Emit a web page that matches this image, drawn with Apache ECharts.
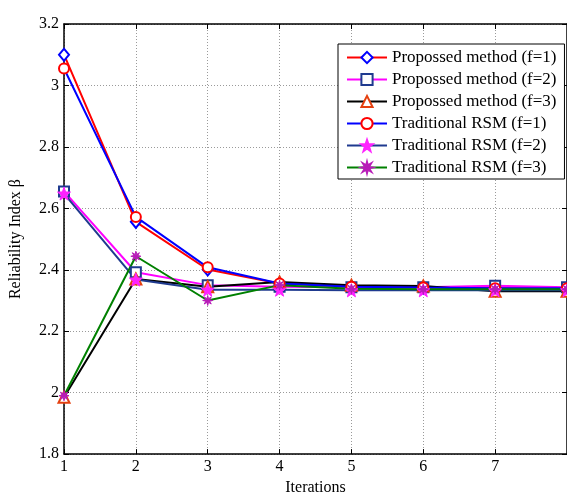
<!DOCTYPE html>
<html>
<head>
<meta charset="utf-8">
<script src="https://cdn.jsdelivr.net/npm/echarts@6/dist/echarts.min.js"></script>
<style>
  html, body { margin: 0; padding: 0; background: #fff; }
  #chart { width: 567px; height: 501px; }
</style>
</head>
<body>
<div id="chart"></div>
<script>
// Iteration numbers on the horizontal axis
const iterations = [1, 2, 3, 4, 5, 6, 7, 8];

// Reliability index beta per iteration
const proposedF1 = [3.10, 2.556, 2.401, 2.355, 2.345, 2.342, 2.340, 2.340];
const proposedF2 = [2.655, 2.392, 2.350, 2.345, 2.343, 2.343, 2.348, 2.343];
const proposedF3 = [1.985, 2.370, 2.345, 2.360, 2.350, 2.347, 2.330, 2.330];
const traditionalF1 = [3.055, 2.572, 2.408, 2.355, 2.345, 2.342, 2.340, 2.340];
const traditionalF2 = [2.648, 2.368, 2.335, 2.335, 2.333, 2.333, 2.333, 2.333];
const traditionalF3 = [1.990, 2.444, 2.300, 2.350, 2.338, 2.337, 2.337, 2.337];

// Legend entries
const seriesNames = [
  'Propossed method (f=1)',
  'Propossed method (f=2)',
  'Propossed method (f=3)',
  'Traditional RSM (f=1)',
  'Traditional RSM (f=2)',
  'Traditional RSM (f=3)'
];

const FONT = '"Liberation Serif", "Times New Roman", serif';

const STAR5 = 'path://M10,0 L12.35,6.76 L19.51,6.91 L13.8,11.24 L15.88,18.09 L10,14 L4.12,18.09 L6.2,11.24 L0.49,6.91 L7.65,6.76 Z';
const STAR8 = 'path://M10,0 L11.53,6.3 L17.07,2.93 L13.7,8.47 L20,10 L13.7,11.53 L17.07,17.07 L11.53,13.7 L10,20 L8.47,13.7 L2.93,17.07 L6.3,11.53 L0,10 L6.3,8.47 L2.93,2.93 L8.47,6.3 Z';

function pairs(values) {
  return iterations.map((x, i) => [x, values[i]]);
}

function makeSeries(name, values, lineColor, symbol, symbolSize, markColor, filled) {
  return {
    name: name,
    type: 'line',
    xAxisIndex: 0,
    yAxisIndex: 0,
    data: pairs(values),
    symbol: symbol,
    symbolSize: symbolSize,
    showAllSymbol: true,
    lineStyle: { color: lineColor, width: 2 },
    itemStyle: filled
      ? { color: markColor, borderColor: markColor, borderWidth: 1 }
      : { color: markColor, borderColor: markColor, borderWidth: 2 },
    emphasis: { disabled: true },
    animation: false
  };
}

const chart = echarts.init(document.getElementById('chart'), null, { renderer: 'canvas' });

const gridLine = { show: true, lineStyle: { color: '#9a9a9a', type: [1, 2], width: 1 } };
const axisLine = { show: true, onZero: false, lineStyle: { color: '#000', width: 1.5 } };
const axisTick = { show: true, inside: true, length: 5, lineStyle: { color: '#000', width: 1 } };

chart.setOption({
  backgroundColor: '#fff',
  animation: false,
  // the plot runs a few pixels past the right edge of the canvas
  grid: { left: 61, width: 510, top: 24, bottom: 39, containLabel: false },
  legend: {
    orient: 'vertical',
    left: 338,
    top: 44,
    padding: [5, 8, 3, 8],
    itemWidth: 40,
    itemHeight: 14,
    itemGap: 5,
    backgroundColor: '#fff',
    borderColor: '#000',
    borderWidth: 1,
    borderRadius: 0,
    selectedMode: false,
    textStyle: { fontFamily: FONT, fontSize: 17, color: '#000' },
    data: seriesNames
  },
  xAxis: [
    {
      type: 'value', min: 1, max: 8, interval: 1,
      position: 'bottom',
      name: 'Iterations', nameLocation: 'middle', nameGap: 24,
      nameTextStyle: { fontFamily: FONT, fontSize: 16, color: '#000' },
      axisLine: axisLine, axisTick: axisTick,
      axisLabel: { fontFamily: FONT, fontSize: 16, color: '#000', margin: 5, showMaxLabel: false },
      splitLine: gridLine
    },
    {
      type: 'value', min: 1, max: 8, interval: 1,
      position: 'top',
      axisLine: axisLine, axisTick: axisTick,
      axisLabel: { show: false }, splitLine: { show: false }
    }
  ],
  yAxis: [
    {
      type: 'value', min: 1.8, max: 3.2, interval: 0.2,
      position: 'left',
      name: 'Reliability Index β', nameLocation: 'middle', nameGap: 40,
      nameTextStyle: { fontFamily: FONT, fontSize: 16, color: '#000' },
      axisLine: axisLine, axisTick: axisTick,
      axisLabel: {
        fontFamily: FONT, fontSize: 16, color: '#000', margin: 5,
        formatter: v => String(+v.toFixed(1))
      },
      splitLine: gridLine
    },
    {
      type: 'value', min: 1.8, max: 3.2, interval: 0.2,
      position: 'right',
      axisLine: axisLine, axisTick: axisTick,
      axisLabel: { show: false }, splitLine: { show: false }
    }
  ],
  series: [
    makeSeries(seriesNames[0], proposedF1, '#ff0000', 'emptyDiamond', [10, 12], '#0000ff', false),
    makeSeries(seriesNames[1], proposedF2, '#ff00ff', 'emptyRect', 10, '#1f3a8f', false),
    makeSeries(seriesNames[2], proposedF3, '#000000', 'emptyTriangle', 11, '#e5400f', false),
    makeSeries(seriesNames[3], traditionalF1, '#0000ff', 'emptyCircle', 10, '#ff0000', false),
    makeSeries(seriesNames[4], traditionalF2, '#1f3a8f', STAR5, 13, '#ff22ff', true),
    makeSeries(seriesNames[5], traditionalF3, '#008000', STAR8, 10, '#b81cb8', true)
  ]
});
</script>
</body>
</html>
